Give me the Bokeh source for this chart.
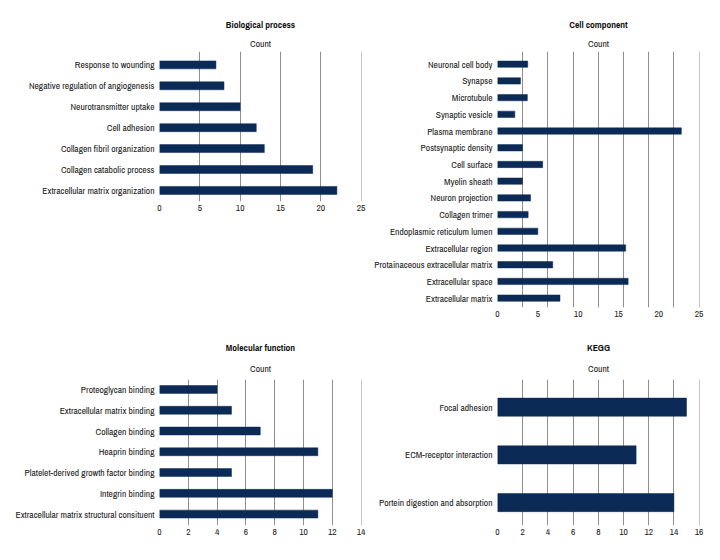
from bokeh.plotting import figure
from bokeh.models import Title, FixedTicker, SingleIntervalTicker, Range1d
from bokeh.layouts import column, row
from bokeh.embed import file_html
from bokeh.resources import INLINE

FONT = "'Archivo Narrow', 'DejaVu Sans Condensed', sans-serif"
BAR = "#0b2b56"
GRID = "#8f8f8f"
TXT = "#1a1a1a"
FS = "9.5px"

# ---- data ----
bp_terms = ["Response to wounding", "Negative regulation of angiogenesis", "Neurotransmitter uptake",
            "Cell adhesion", "Collagen fibril organization", "Collagen catabolic process",
            "Extracellular matrix organization"]
bp_counts = [7, 8, 10, 12, 13, 19, 22]

cc_terms = ["Neuronal cell body", "Synapse", "Microtubule", "Synaptic vesicle", "Plasma membrane",
            "Postsynaptic density", "Cell surface", "Myelin sheath", "Neuron projection",
            "Collagen trimer", "Endoplasmic reticulum lumen", "Extracellular region",
            "Protainaceous extracellular matrix", "Extracellular space", "Extracellular matrix"]
cc_counts = [3.75, 2.85, 3.7, 2.15, 22.8, 3.1, 5.6, 3.1, 4.1, 3.8, 5.0, 15.9, 6.85, 16.2, 7.75]

mf_terms = ["Proteoglycan binding", "Extracellular matrix binding", "Collagen binding", "Heaprin binding",
            "Platelet-derived growth factor binding", "Integrin binding",
            "Extracellular matrix structural consituent"]
mf_counts = [4, 5, 7, 11, 5, 12, 11]

kegg_terms = ["Focal adhesion", "ECM-receptor interaction", "Portein digestion and absorption"]
kegg_counts = [15, 11, 14]


def panel(title, terms, counts, xmax, xstep, gridticks, width, height, bl, br, bt, bb,
          ypad_bottom, ypad_top, count_standoff, title_standoff):
    n = len(terms)
    ys = [n - 1 - i for i in range(n)]
    p = figure(width=width, height=height, output_backend="svg", toolbar_location=None,
               title=None, x_range=Range1d(0, xmax), y_range=Range1d(-ypad_bottom, n - 1 + ypad_top),
               min_border_left=bl, min_border_right=br, min_border_top=bt, min_border_bottom=bb)
    p.add_layout(Title(text="Count", align="center", text_font=FONT, text_font_size=FS,
                       text_font_style="normal", text_color=TXT, standoff=count_standoff), "above")
    p.add_layout(Title(text=title, align="center", text_font=FONT, text_font_size=FS,
                       text_font_style="bold", text_color="#111111", standoff=title_standoff), "above")
    p.hbar(y=ys, right=counts, left=0, height=0.38, fill_color=BAR, line_color=BAR, line_width=0.5)
    p.outline_line_color = None
    # x axis
    p.xaxis.ticker = SingleIntervalTicker(interval=xstep)
    p.xaxis.axis_line_color = None
    p.xaxis.major_tick_line_color = None
    p.xaxis.minor_tick_line_color = None
    p.xaxis.major_tick_out = 0
    p.xaxis.major_tick_in = 0
    p.xaxis.minor_tick_out = 0
    p.xaxis.major_label_standoff = 3
    p.xaxis.major_label_text_font = FONT
    p.xaxis.major_label_text_font_size = FS
    p.xaxis.major_label_text_color = TXT
    # y axis
    p.yaxis.ticker = FixedTicker(ticks=ys)
    p.yaxis.major_label_overrides = {y: t for y, t in zip(ys, terms)}
    p.yaxis.axis_line_color = None
    p.yaxis.major_tick_line_color = None
    p.yaxis.minor_tick_line_color = None
    p.yaxis.major_tick_out = 0
    p.yaxis.major_tick_in = 0
    p.yaxis.minor_tick_out = 0
    p.yaxis.major_label_standoff = 5
    p.yaxis.major_label_text_font = FONT
    p.yaxis.major_label_text_font_size = FS
    p.yaxis.major_label_text_color = TXT
    # grids
    p.ygrid.grid_line_color = None
    p.xgrid.ticker = FixedTicker(ticks=gridticks)
    p.xgrid.grid_line_color = GRID
    p.xgrid.grid_line_width = 1
    return p


p1 = panel("Biological process", bp_terms, bp_counts, 25.05, 5, [0, 5, 10, 15, 20, 25],
           366, 330, 159, 5, 51, 129, 0.53, 0.64, 3, 5)
p2 = panel("Cell component", cc_terms, cc_counts, 25.05, 5, [i * 25 / 8 for i in range(9)],
           346, 330, 131, 13, 51, 23, 0.56, 0.76, 3, 5)
p3 = panel("Molecular function", mf_terms, mf_counts, 14.03, 2, [0, 2, 4, 6, 8, 10, 12, 14],
           366, 220, 159, 5, 49, 25, 0.55, 0.48, 9, 3)
p4 = panel("KEGG", kegg_terms, kegg_counts, 16.03, 2, [0, 2, 4, 6, 8, 10, 12, 14, 16],
           346, 220, 131, 13, 49, 25, 0.48, 0.58, 9, 3)

layout = row(column(p1, p3), column(p2, p4))
open("out.html", "w").write(file_html(layout, INLINE))
